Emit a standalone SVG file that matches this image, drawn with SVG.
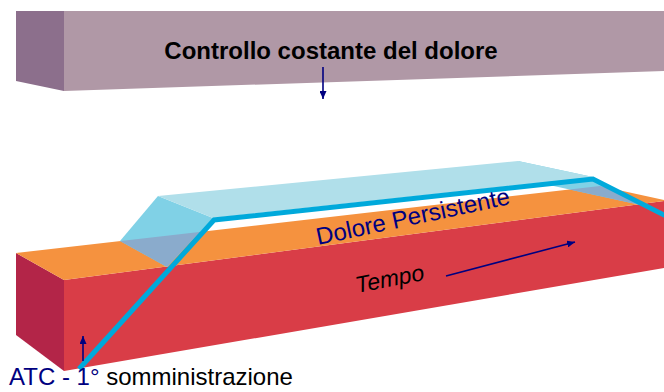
<svg xmlns="http://www.w3.org/2000/svg" width="664" height="392" viewBox="0 0 664 392">
<style>
.t{font-family:"Liberation Sans",Arial,sans-serif}
.arr{stroke:#000080;stroke-width:1.6;fill:none;marker-end:url(#ah)}
</style>
<defs>
<marker id="ah" viewBox="0 0 8 7" refX="8" refY="3.5" markerWidth="8" markerHeight="7" markerUnits="userSpaceOnUse" orient="auto">
<path d="M0,0 L8,3.5 L0,7 z" fill="#000080"/>
</marker>
<clipPath id="orangeClip">
<polygon points="16,253 600,186 664,200 664,201 64,280"/>
</clipPath>
</defs>
<rect width="664" height="392" fill="#ffffff"/>
<g id="bar">
<polygon points="16,11 64,11 64,91 16,81" fill="#8c6f8c"/>
<polygon points="64,11 664,11 664,71 64,91" fill="#b098a6"/>
<text class="t" x="331" y="59" text-anchor="middle" font-size="24" font-weight="bold" fill="#000000">Controllo costante del dolore</text>
</g>
<g id="box">
<polygon points="16,253 64,280 64,371 16,335" fill="#b32548"/>
<polygon points="64,280 664,201 664,268 64,371" fill="#d93d47"/>
<polygon points="16,253 600,186 664,200 664,201 64,280" fill="#f5923f"/>
</g>
<g id="plateau">
<polygon points="120,241 158,196 213,218 167,267" fill="#80d1e6"/>
<polygon points="518,161 593,177 645,206 540,183" fill="#80d1e6"/>
<g clip-path="url(#orangeClip)">
<polygon points="120,241 158,196 213,218 167,267" fill="#8aabcc"/>
<polygon points="518,161 593,177 645,206 540,183" fill="#8aabcc"/>
</g>
<polygon points="158,196 518,161 593,177 213,218" fill="#b0dfea"/>
</g>
<g id="connectors">
<polyline points="79,369 214,220 593,179 672,219" fill="none" stroke="#00a9db" stroke-width="5" stroke-linejoin="miter"/>
<line class="arr" x1="323" y1="67" x2="323" y2="99"/>
<line class="arr" x1="83" y1="361" x2="83" y2="336"/>
<line class="arr" x1="446" y1="276" x2="575" y2="242"/>
</g>
<g id="labels">
<text class="t" transform="translate(318,245) rotate(-12)" font-size="24" fill="#000080">Dolore Persistente</text>
<text class="t" transform="translate(357,293) rotate(-11)" font-size="23" font-style="italic" fill="#000000">Tempo</text>
<text class="t" x="9" y="385" font-size="24"><tspan fill="#000080">ATC - 1°</tspan><tspan fill="#000000"> somministrazione</tspan></text>
</g>
</svg>
